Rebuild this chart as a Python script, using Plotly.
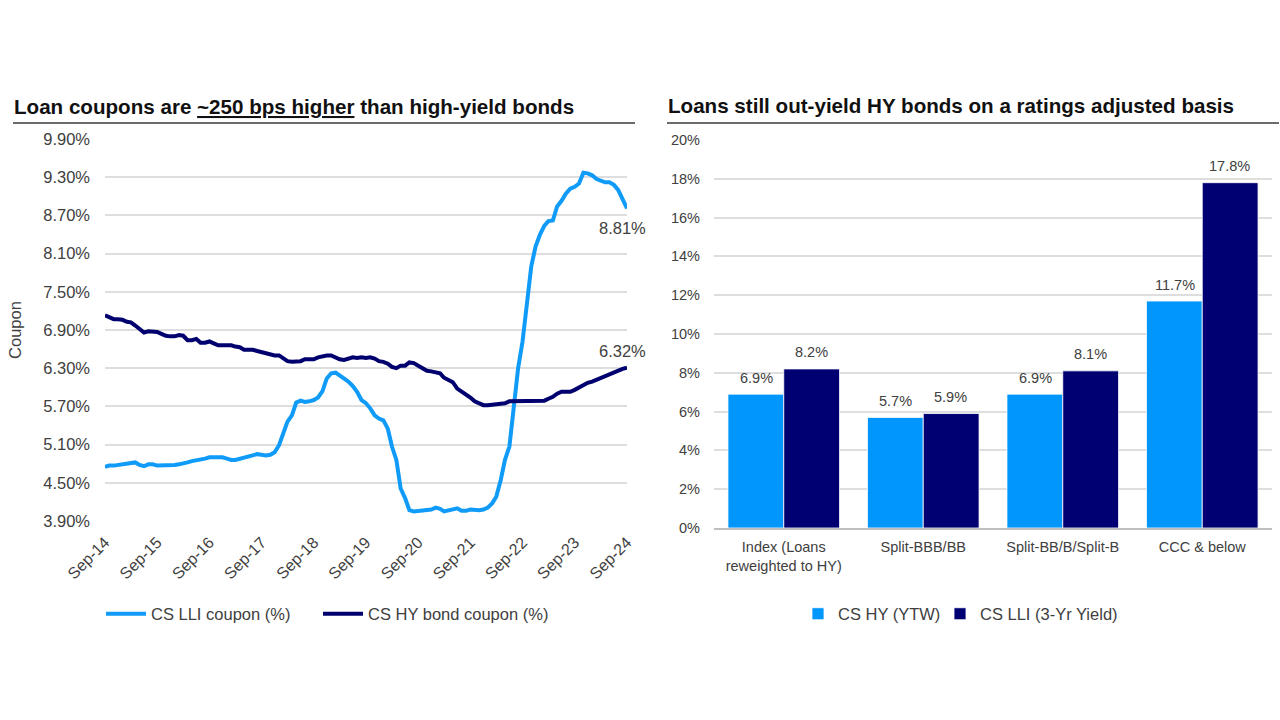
# loan coupons vs HY bonds, and yields by rating bucket
import plotly.graph_objects as go
import pandas as pd

# monthly coupons, Sep-14 to Sep-24
lli_coupon = [
  4.75, 4.77, 4.77, 4.78, 4.78, 4.79, 4.81, 4.82, 4.78, 4.76, 4.79, 4.79,
  4.77, 4.77, 4.78, 4.78, 4.78, 4.79, 4.80, 4.82, 4.84, 4.85, 4.86, 4.88,
  4.90, 4.90, 4.90, 4.90, 4.88, 4.86, 4.86, 4.88, 4.90, 4.92, 4.94, 4.95,
  4.94, 4.93, 4.94, 4.98, 5.09, 5.30, 5.46, 5.56, 5.76, 5.79, 5.77, 5.78,
  5.80, 5.84, 5.94, 6.14, 6.22, 6.23, 6.19, 6.14, 6.09, 6.02, 5.93, 5.80,
  5.75, 5.67, 5.56, 5.51, 5.48, 5.35, 5.07, 4.86, 4.41, 4.26, 4.07, 4.05,
  4.06, 4.07, 4.07, 4.08, 4.11, 4.09, 4.05, 4.07, 4.09, 4.10, 4.06, 4.06,
  4.08, 4.07, 4.07, 4.08, 4.11, 4.18, 4.28, 4.54, 4.86, 5.07, 5.69, 6.30,
  6.72, 7.33, 7.90, 8.21, 8.40, 8.54, 8.61, 8.62, 8.84, 8.93, 9.04, 9.12,
  9.15, 9.20, 9.37, 9.36, 9.33, 9.27, 9.24, 9.22, 9.22, 9.18, 9.10, 8.97,
  8.81]
hy_coupon = [
  7.13, 7.10, 7.07, 7.07, 7.06, 7.03, 7.02, 6.97, 6.91, 6.86, 6.88, 6.87,
  6.87, 6.84, 6.81, 6.80, 6.80, 6.82, 6.81, 6.74, 6.74, 6.76, 6.70, 6.70,
  6.72, 6.69, 6.66, 6.66, 6.66, 6.66, 6.64, 6.63, 6.59, 6.59, 6.59, 6.57,
  6.55, 6.54, 6.52, 6.50, 6.50, 6.46, 6.41, 6.40, 6.41, 6.41, 6.44, 6.44,
  6.44, 6.47, 6.49, 6.50, 6.50, 6.47, 6.44, 6.43, 6.45, 6.47, 6.46, 6.47,
  6.46, 6.47, 6.45, 6.41, 6.40, 6.37, 6.32, 6.30, 6.34, 6.34, 6.39, 6.38,
  6.34, 6.30, 6.26, 6.25, 6.24, 6.22, 6.15, 6.11, 6.08, 5.98, 5.94, 5.89,
  5.84, 5.78, 5.75, 5.72, 5.72, 5.73, 5.74, 5.75, 5.75, 5.78, 5.78, 5.78,
  5.78, 5.78, 5.79, 5.79, 5.79, 5.79, 5.82, 5.85, 5.90, 5.93, 5.93, 5.93,
  5.96, 6.00, 6.04, 6.07, 6.09, 6.12, 6.15, 6.17, 6.20, 6.24, 6.27, 6.29,
  6.31]
year_labels = ["Sep-14", "Sep-15", "Sep-16", "Sep-17", "Sep-18", "Sep-19",
               "Sep-20", "Sep-21", "Sep-22", "Sep-23", "Sep-24"]

buckets = ["Index (Loans<br>reweighted to HY)", "Split-BBB/BB", "Split-BB/B/Split-B", "CCC & below"]
hy_ytw = [6.9, 5.7, 6.9, 11.7]
lli_yield = [8.2, 5.9, 8.1, 17.8]

LIGHT = "#0F9BF7"
NAVY = "#00006F"
GREY = "#404040"
GRID = "#DEDEDE"
FONT = "Liberation Sans"
W, H = 1280, 720

months = pd.date_range("2014-09-01", periods=len(lli_coupon), freq="MS")
year_ticks = months[::12]

fig = go.Figure()

fig.add_trace(go.Scatter(x=months, y=lli_coupon, name="CS LLI coupon (%)", mode="lines", showlegend=True,
                         line=dict(color=LIGHT, width=4), xaxis="x", yaxis="y", legend="legend"))
fig.add_trace(go.Scatter(x=months, y=hy_coupon, name="CS HY bond coupon (%)", mode="lines", showlegend=True,
                         line=dict(color=NAVY, width=4), xaxis="x", yaxis="y", legend="legend2"))

fig.add_trace(go.Bar(x=buckets, y=hy_ytw, name="CS HY (YTW)", showlegend=True,
                     marker=dict(color="#0096FB", line=dict(color="white", width=0.8)),
                     xaxis="x2", yaxis="y2", legend="legend3"))
fig.add_trace(go.Bar(x=buckets, y=lli_yield, name="CS LLI (3-Yr Yield)", showlegend=True,
                     marker=dict(color="#000072", line=dict(color="white", width=0.8)),
                     xaxis="x2", yaxis="y2", legend="legend4"))

# bar value labels sit well above the bars, so they are annotations on the bar values
bar_labels = []
for series, shift in ((hy_ytw, -27.5), (lli_yield, 27.5)):
  for cat, val in zip(buckets, series):
    bar_labels.append(dict(text=f"{val:.1f}%", x=cat, y=val, xref="x2", yref="y2", showarrow=False,
                           xshift=shift, yshift=16.5, font=dict(size=14.5, color=GREY)))

# one legend per trace, the entries are spaced unevenly in the original
def legend_at(left, sample_width):
  return dict(orientation="h", x=left / W, y=1 - 614 / H, xanchor="left", yanchor="middle",
              font=dict(size=16.5), itemwidth=sample_width, bgcolor="rgba(0,0,0,0)")

fig.update_layout(
  width=W, height=H,
  autosize=False,
  showlegend=True,
  margin=dict(l=0, r=0, t=0, b=0, autoexpand=False),
  paper_bgcolor="white",
  plot_bgcolor="white",
  font=dict(family=FONT, color=GREY, size=15),
  barmode="group",
  bargap=0.2,
  bargroupgap=0,
  xaxis=dict(domain=[105 / W, 627 / W], anchor="y", type="date", range=[months[0], months[-1]],
             tickvals=year_ticks, ticktext=year_labels, tickangle=-45, tickfont=dict(size=16),
             showgrid=False, zeroline=False, showline=False, ticks="", automargin=False, ticklabelstandoff=8),
  yaxis=dict(domain=[1 - 521 / H, 1 - 139 / H], anchor="x", range=[3.9, 9.9], tick0=3.9, dtick=0.6,
             tickformat=".2f", ticksuffix="%", tickfont=dict(size=16.5), gridcolor=GRID, gridwidth=1.5,
             zeroline=False, showline=False, ticks="", ticklabelstandoff=14, automargin=False,
             title=dict(text="Coupon", font=dict(size=16.5), standoff=17)),
  xaxis2=dict(domain=[714 / W, 1272 / W], anchor="y2", showgrid=False, zeroline=False, ticks="",
              showline=True, linecolor="#BFBFBF", linewidth=1.5, tickfont=dict(size=14.5), automargin=False,
              ticklabelstandoff=5),
  yaxis2=dict(domain=[1 - 528 / H, 1 - 140 / H], anchor="x2", range=[0, 20], dtick=2, ticksuffix="%",
              tickfont=dict(size=14.5), gridcolor=GRID, gridwidth=1.5, zeroline=False, showline=False,
              ticks="", ticklabelstandoff=13, automargin=False),
  legend=legend_at(101, 40),
  legend2=legend_at(318, 40),
  legend3=legend_at(798, 30),
  legend4=legend_at(940, 30),
  shapes=[
    dict(type="line", xref="paper", yref="paper", x0=13 / W, x1=635 / W, y0=1 - 123 / H, y1=1 - 123 / H,
         line=dict(color="#3A3A3A", width=1.3)),
    dict(type="line", xref="paper", yref="paper", x0=667 / W, x1=1279 / W, y0=1 - 123 / H, y1=1 - 123 / H,
         line=dict(color="#3A3A3A", width=1.3)),
  ],
  annotations=[
    dict(text="<b>Loan coupons are <u>~250 bps higher</u> than high-yield bonds</b>", xref="paper", yref="paper",
         x=12 / W, y=1 - 106 / H, xanchor="left", yanchor="middle", showarrow=False,
         font=dict(size=20.6, color="#111111")),
    dict(text="<b>Loans still out-yield HY bonds on a ratings adjusted basis</b>", xref="paper", yref="paper",
         x=666 / W, y=1 - 105 / H, xanchor="left", yanchor="middle", showarrow=False,
         font=dict(size=20.6, color="#111111")),
    # end-of-line labels, kept on the data points
    dict(text="8.81%", x=months[-1], y=lli_coupon[-1], xref="x", yref="y", showarrow=False,
         xanchor="center", yshift=-20, xshift=-5, font=dict(size=16.5, color=GREY)),
    dict(text="6.32%", x=months[-1], y=hy_coupon[-1], xref="x", yref="y", showarrow=False,
         xanchor="center", yshift=17, xshift=-5, font=dict(size=16.5, color=GREY)),
  ] + bar_labels,
)

# the default page leaves an 8px body margin around a fixed size plot
fig.write_html("out.html", config={"displayModeBar": False}, post_script="document.body.style.margin = '0';")
